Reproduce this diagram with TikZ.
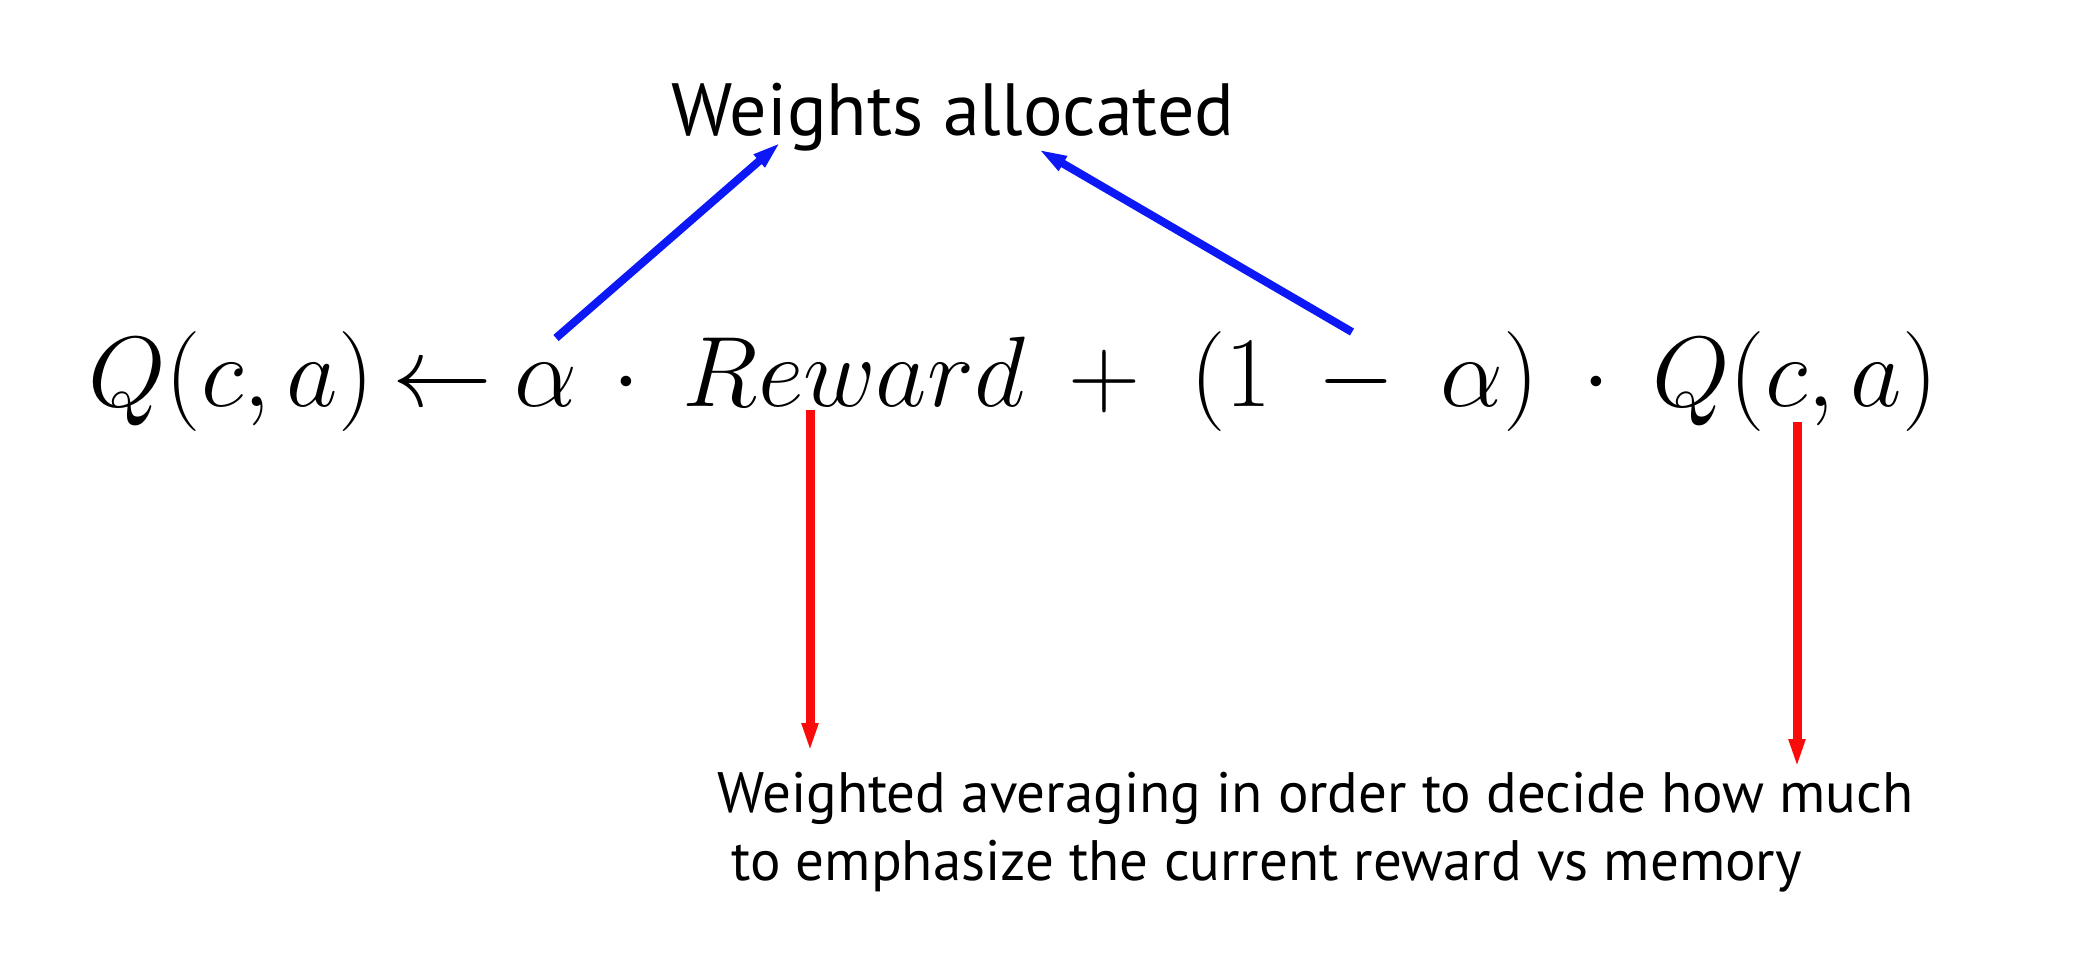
\documentclass[tikz,border=0pt]{standalone}
\usepackage{fix-cm}
\usepackage{fontspec}
\setmainfont{PT Sans}
\usetikzlibrary{arrows.meta}
\definecolor{arrblue}{RGB}{12,24,245}
\definecolor{arrred}{RGB}{250,12,12}
\begin{document}
\begin{tikzpicture}[x=0.5pt,y=-0.5pt,
  eq/.style={inner sep=0pt, anchor=base, font=\fontsize{50}{60}\selectfont},
  lbl/.style={inner sep=0pt, anchor=base, font=\fontsize{37}{46}\selectfont},
  desc/.style={inner sep=0pt, anchor=base west, font=\fontsize{28.5}{34}\selectfont},
  bluearr/.style={draw=arrblue, line width=4pt, -{Triangle[length=14.5pt,width=7.5pt]}},
  redarr/.style={draw=arrred, line width=4.5pt, -{Triangle[length=14.5pt,width=7.5pt]}}]
\useasboundingbox[fill=white] (0,0) rectangle (2100,974);
% title
\node[lbl] (wa) at (953,135) {Weights allocated};
% equation pieces
\node[eq] (q1) at (231,406) {$Q(c,a)$};
\node[eq] (arr) at (442,406) {$\leftarrow$};
\node[eq] (al1) at (546,406) {$\alpha$};
\node[eq] (dot1) at (626,406) {$\cdot$};
\node[eq] (rew) at (854,406) {$Reward$};
\node[eq] (plus) at (1104,406) {$+$};
\node[eq] (one) at (1231,406) {$(1$};
\node[eq] (minus) at (1356,406) {$-$};
\node[eq] (al2) at (1490,406) {$\alpha)$};
\node[eq] (dot2) at (1596,406) {$\cdot$};
\node[eq] (q2) at (1795,406) {$Q(c,a)$};
% description
\node[desc] (d1) at (717,812) {Weighted averaging in order to decide how much};
\node[desc] (d2) at (731,880) {to emphasize the current reward vs memory};
% connector ends
\coordinate (b1t) at (556,338);
\coordinate (b1h) at (781,142);
\coordinate (b2t) at (1352,332);
\coordinate (b2h) at (1038,149);
\coordinate (r1t) at (810,410);
\coordinate (r1h) at (810,752);
\coordinate (r2t) at (1797,422);
\coordinate (r2h) at (1797,768);
\draw[bluearr] (b1t) -- (b1h);
\draw[bluearr] (b2t) -- (b2h);
\draw[redarr] (r1t) -- (r1h);
\draw[redarr] (r2t) -- (r2h);
\end{tikzpicture}
\end{document}
